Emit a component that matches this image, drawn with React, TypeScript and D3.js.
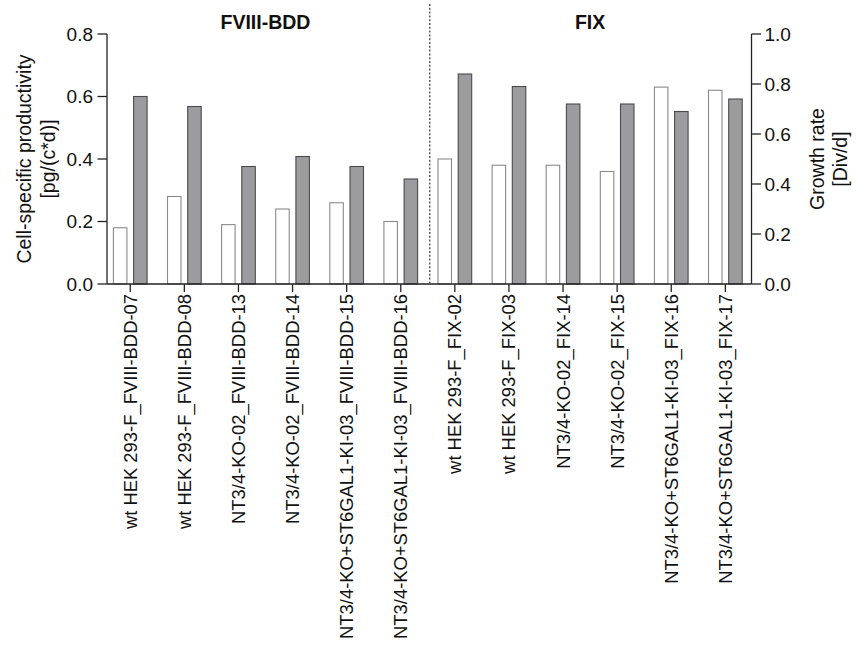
import React, { useEffect } from "react";
import * as d3 from "d3";

// Cell lines (x categories), split into two product groups
const categories = [
  "wt HEK 293-F_FVIII-BDD-07",
  "wt HEK 293-F_FVIII-BDD-08",
  "NT3/4-KO-02_FVIII-BDD-13",
  "NT3/4-KO-02_FVIII-BDD-14",
  "NT3/4-KO+ST6GAL1-KI-03_FVIII-BDD-15",
  "NT3/4-KO+ST6GAL1-KI-03_FVIII-BDD-16",
  "wt HEK 293-F_FIX-02",
  "wt HEK 293-F_FIX-03",
  "NT3/4-KO-02_FIX-14",
  "NT3/4-KO-02_FIX-15",
  "NT3/4-KO+ST6GAL1-KI-03_FIX-16",
  "NT3/4-KO+ST6GAL1-KI-03_FIX-17",
];

// Cell-specific productivity [pg/(c*d)] (left axis, open bars)
const productivity = [0.18, 0.28, 0.19, 0.24, 0.26, 0.2, 0.4, 0.38, 0.38, 0.36, 0.63, 0.62];

// Growth rate [Div/d] (right axis, grey bars)
const growthRate = [0.75, 0.71, 0.47, 0.51, 0.47, 0.42, 0.84, 0.79, 0.72, 0.72, 0.69, 0.74];

const leftTicks = [0, 0.2, 0.4, 0.6, 0.8];
const rightTicks = [0, 0.2, 0.4, 0.6, 0.8, 1.0];

const groups = [
  { name: "FVIII-BDD", first: 0, last: 5 },
  { name: "FIX", first: 6, last: 11 },
];

const W = 856;
const H = 655;
const FONT = "'Liberation Sans', Arial, Helvetica, sans-serif";

export default function App() {
  useEffect(() => {
    document.body.style.margin = "0";
  }, []);

  const axisLeftX = 107;
  const axisRightX = 751.5;
  const yTop = 34;
  const yBase = 284;

  const x = d3.scaleBand<string>().domain(categories).range([103.2, 752.4]).paddingInner(0).paddingOuter(0);
  const inner = d3
    .scaleBand<string>()
    .domain(["prod", "growth"])
    .range([0, x.bandwidth()])
    .paddingInner(0.332)
    .paddingOuter(0.505);

  const yL = d3.scaleLinear().domain([0, 0.8]).range([yBase, yTop]);
  const yR = d3.scaleLinear().domain([0, 1.0]).range([yBase, yTop]);

  const fmt = d3.format(".1f");
  const center = (c: string) => (x(c) as number) + x.bandwidth() / 2;

  // separator between the two product groups
  const sepX = (center(categories[5]) + center(categories[6])) / 2 + 2;

  return (
    <svg width={W} height={H} style={{ display: "block", background: "#fff" }} fontFamily={FONT}>
      {/* group separator */}
      <line x1={sepX} x2={sepX} y1={4} y2={yBase} stroke="#333" strokeWidth={1.2} strokeDasharray="2,1.8" />

      {/* bars */}
      {categories.map((c, i) => {
        const x0 = x(c) as number;
        return (
          <g key={c}>
            <rect
              x={x0 + (inner("prod") as number)}
              y={yL(productivity[i])}
              width={inner.bandwidth()}
              height={yBase - yL(productivity[i])}
              fill="#ffffff"
              stroke="#8a8a8a"
              strokeWidth={1.1}
            />
            <rect
              x={x0 + (inner("growth") as number)}
              y={yR(growthRate[i])}
              width={inner.bandwidth()}
              height={yBase - yR(growthRate[i])}
              fill="#9c9ca0"
              stroke="#4a4a4a"
              strokeWidth={1.1}
            />
          </g>
        );
      })}

      {/* left axis */}
      <line x1={axisLeftX} x2={axisLeftX} y1={yTop} y2={yBase} stroke="#222" strokeWidth={1.3} />
      {leftTicks.map((t) => (
        <g key={"l" + t}>
          <line x1={axisLeftX - 9.5} x2={axisLeftX} y1={yL(t)} y2={yL(t)} stroke="#222" strokeWidth={1.3} />
          <text x={axisLeftX - 14} y={yL(t)} dy="0.35em" textAnchor="end" fontSize={19} fill="#111">
            {fmt(t)}
          </text>
        </g>
      ))}

      {/* right axis */}
      <line x1={axisRightX} x2={axisRightX} y1={yTop} y2={yBase} stroke="#222" strokeWidth={1.3} />
      {rightTicks.map((t) => (
        <g key={"r" + t}>
          <line x1={axisRightX} x2={axisRightX + 9.5} y1={yR(t)} y2={yR(t)} stroke="#222" strokeWidth={1.3} />
          <text x={axisRightX + 13} y={yR(t)} dy="0.35em" textAnchor="start" fontSize={19} fill="#111">
            {fmt(t)}
          </text>
        </g>
      ))}

      {/* x axis baseline, ticks and rotated category labels */}
      <line x1={axisLeftX} x2={axisRightX} y1={yBase} y2={yBase} stroke="#222" strokeWidth={1.3} />
      {categories.map((c) => {
        const cx = center(c);
        return (
          <g key={"t" + c}>
            <line x1={cx} x2={cx} y1={yBase} y2={yBase + 8} stroke="#222" strokeWidth={1.3} />
            <text
              transform={`translate(${cx},${yBase + 10}) rotate(-90)`}
              textAnchor="end"
              dy="0.35em"
              fontSize={18.4}
              fill="#111"
            >
              {c}
            </text>
          </g>
        );
      })}

      {/* group titles */}
      {groups.map((g) => {
        const gx = (center(categories[g.first]) + center(categories[g.last])) / 2;
        return (
          <text key={g.name} x={gx} y={29} textAnchor="middle" fontSize={19.5} fontWeight="bold" fill="#111">
            {g.name}
          </text>
        );
      })}

      {/* axis titles */}
      <text transform={`translate(24,${(yTop + yBase) / 2}) rotate(-90)`} textAnchor="middle" dy="0.35em" fontSize={19.5} fill="#111">
        Cell-specific productivity
      </text>
      <text transform={`translate(48,${(yTop + yBase) / 2}) rotate(-90)`} textAnchor="middle" dy="0.35em" fontSize={19.5} fill="#111">
        [pg/(c*d)]
      </text>
      <text transform={`translate(817,${(yTop + yBase) / 2}) rotate(-90)`} textAnchor="middle" dy="0.35em" fontSize={19.5} fill="#111">
        Growth rate
      </text>
      <text transform={`translate(840,${(yTop + yBase) / 2}) rotate(-90)`} textAnchor="middle" dy="0.35em" fontSize={19.5} fill="#111">
        [Div/d]
      </text>
    </svg>
  );
}
